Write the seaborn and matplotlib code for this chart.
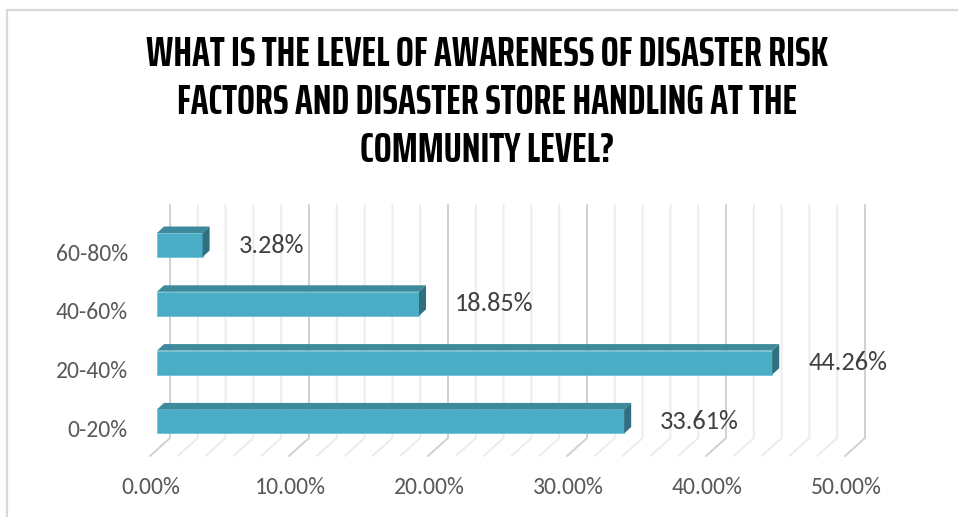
import matplotlib
matplotlib.use("Agg")
import matplotlib.pyplot as plt
import matplotlib.transforms as mtransforms
from matplotlib.patches import Polygon
from matplotlib.lines import Line2D
import seaborn as sns
import pandas as pd

# --- data ---------------------------------------------------------------
categories = ["60-80%", "40-60%", "20-40%", "0-20%"]
shares = [3.28, 18.85, 44.26, 33.61]
tick_values = [0, 10, 20, 30, 40, 50]
tick_labels = ["0.00%", "10.00%", "20.00%", "30.00%", "40.00%", "50.00%"]
title = ("WHAT IS THE LEVEL OF AWARENESS OF DISASTER RISK\n"
         "FACTORS AND DISASTER STORE HANDLING AT THE\n"
         "COMMUNITY LEVEL?")

df = pd.DataFrame({"range": categories, "share": shares})

# --- figure & axes geometry (pixels at dpi 100) -------------------------
W, H = 958, 517
DPI = 100
sns.set_theme(style="white")
plt.rcParams["font.family"] = ["Carlito", "Lato", "DejaVu Sans"]

fig = plt.figure(figsize=(W / DPI, H / DPI), dpi=DPI)
fig.patch.set_facecolor("white")

px_x = 13.9          # pixels per percent
px_y = 58.8          # pixels per category step
first_center = 245   # pixel row of first bar centre
ax_left, ax_right = 157, 157 + 50 * px_x
ax_top, ax_bottom = 205, 440
ax = fig.add_axes([ax_left / W, 1 - ax_bottom / H,
                   (ax_right - ax_left) / W, (ax_bottom - ax_top) / H])
ax.set_facecolor("none")

front_col = "#4BACC6"
top_col = "#3D8A9D"
side_col = "#2F6F80"

sns.barplot(data=df, x="share", y="range", orient="h", color=front_col,
            saturation=1, width=24 / px_y, ax=ax, zorder=3,
            edgecolor="#6CC3D8", linewidth=0.6)

ax.set_xlim(0, 50)
ax.set_ylim((ax_bottom - first_center) / px_y, (ax_top - first_center) / px_y)

# 3-D depth of the bars
dx = 7 / px_x
dy = 6.5 / px_y
bars = list(ax.patches)
for p in bars:
    x0, y0 = p.get_x(), p.get_y()
    w, h = p.get_width(), p.get_height()
    top = Polygon([(x0, y0), (x0 + w, y0), (x0 + w + dx, y0 - dy), (x0 + dx, y0 - dy)],
                  closed=True, facecolor=top_col, edgecolor="none", zorder=3)
    side = Polygon([(x0 + w, y0), (x0 + w + dx, y0 - dy), (x0 + w + dx, y0 + h - dy),
                    (x0 + w, y0 + h)],
                   closed=True, facecolor=side_col, edgecolor="none", zorder=3)
    ax.add_patch(top)
    ax.add_patch(side)

# back-wall gridlines with floor diagonals
back_off = 13 / px_x
front_off = -7 / px_x
y_wall_top = (ax_top - first_center) / px_y
y_wall_bot = (438 - first_center) / px_y
y_floor = (456 - first_center) / px_y
for v in range(0, 52, 2):
    col = "#D0D0D0" if v % 10 == 0 else "#ECECEC"
    xs = [v + back_off, v + back_off, v + front_off]
    ys = [y_wall_top, y_wall_bot, y_floor]
    ax.add_line(Line2D(xs, ys, color=col, lw=1.4, zorder=1, clip_on=False))

# value labels
for p, val in zip(bars, shares):
    yc = p.get_y() + p.get_height() / 2
    ax.annotate(f"{val:.2f}%", xy=(p.get_x() + p.get_width(), yc),
                xytext=(36, 0), textcoords="offset pixels",
                ha="left", va="center", fontsize=19, color="#404040", zorder=5)

# axes ticks
ax.set_xticks(tick_values)
ax.set_xticklabels(tick_labels)
ax.tick_params(axis="x", length=0, pad=27, labelsize=17, labelcolor="#595959")
ax.tick_params(axis="y", length=0, pad=21, labelsize=17, labelcolor="#595959")
shift_x = mtransforms.ScaledTranslation(-6 / DPI, 0, fig.dpi_scale_trans)
for lab in ax.get_xticklabels():
    lab.set_transform(lab.get_transform() + shift_x)
shift_y = mtransforms.ScaledTranslation(0, -7 / DPI, fig.dpi_scale_trans)
for lab in ax.get_yticklabels():
    lab.set_transform(lab.get_transform() + shift_y)
ax.set_xlabel("")
ax.set_ylabel("")
for s in ax.spines.values():
    s.set_visible(False)
ax.grid(False)

# title
fig.text(487 / W, 1 - 102 / H, title, ha="center", va="center",
         fontsize=30.6, fontweight="bold", color="black", linespacing=1.24,
         family=["Saira ExtraCondensed", "Saira Extra Condensed", "Teko",
                 "Bebas Neue", "DejaVu Sans"])

# chart frame (top and left edges)
fig.add_artist(Line2D([7 / W, 1], [1 - 10 / H, 1 - 10 / H], color="#D9D9D9", lw=1.6,
                      transform=fig.transFigure))
fig.add_artist(Line2D([7 / W, 7 / W], [0, 1 - 10 / H], color="#D9D9D9", lw=1.6,
                      transform=fig.transFigure))

fig.savefig("out.png", dpi=DPI, facecolor="white")
